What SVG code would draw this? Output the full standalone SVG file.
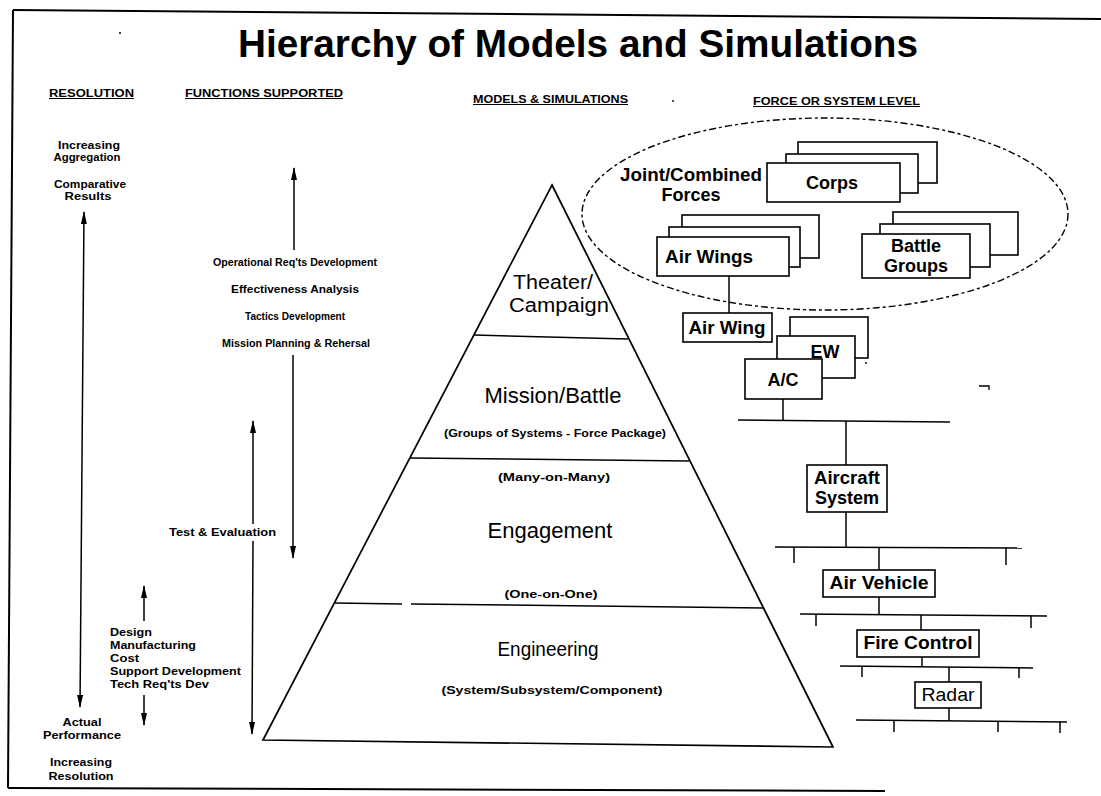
<svg xmlns="http://www.w3.org/2000/svg" width="1101" height="796" viewBox="0 0 1101 796">
<style>
text{font-family:"Liberation Sans",Arial,sans-serif;fill:#000}
.title{font-size:38px;font-weight:bold}
.hdr{font-size:10px;font-weight:bold;text-decoration:underline}
.sm{font-size:10.5px;font-weight:bold}
.pyr{font-size:22px}
.pyrs{font-size:11px;font-weight:bold}
.bl{font-size:18px;font-weight:bold}
.box{fill:#fff;stroke:#000;stroke-width:1.6}
.ln{stroke:#000;stroke-width:1.5;fill:none}
.arr{stroke:#000;stroke-width:1.5;fill:none}
</style>
<defs>
<marker id="ah" viewBox="0 0 13 6" refX="12" refY="3" markerWidth="13" markerHeight="6" markerUnits="userSpaceOnUse" orient="auto-start-reverse">
<path d="M0,0 L13,3 L0,6 z" fill="#000"/>
</marker>
</defs>
<rect width="1101" height="796" fill="#fff"/>

<!-- frame -->
<g id="frame" class="ln">
<path d="M13,10 L1101,19" style="stroke-width:2"/>
<path d="M13,10 L8,788" style="stroke-width:2"/>
<path d="M8,788 L885,791" style="stroke-width:2"/>
</g>

<text class="title" x="578" y="57" text-anchor="middle" textLength="680" lengthAdjust="spacingAndGlyphs">Hierarchy of Models and Simulations</text>

<!-- headers -->
<g id="headers">
<text class="hdr" x="49" y="97" textLength="85" lengthAdjust="spacingAndGlyphs">RESOLUTION</text>
<text class="hdr" x="185" y="97" textLength="158" lengthAdjust="spacingAndGlyphs">FUNCTIONS SUPPORTED</text>
<text class="hdr" x="473" y="103" textLength="155" lengthAdjust="spacingAndGlyphs">MODELS &amp; SIMULATIONS</text>
<text class="hdr" x="753" y="105" textLength="167" lengthAdjust="spacingAndGlyphs">FORCE OR SYSTEM LEVEL</text>
</g>

<!-- resolution column -->
<g id="resolution">
<text class="sm" x="89" y="149" text-anchor="middle" textLength="62" lengthAdjust="spacingAndGlyphs">Increasing</text>
<text class="sm" x="87" y="161" text-anchor="middle" textLength="67" lengthAdjust="spacingAndGlyphs">Aggregation</text>
<text class="sm" x="90" y="188" text-anchor="middle" textLength="72" lengthAdjust="spacingAndGlyphs">Comparative</text>
<text class="sm" x="88" y="200" text-anchor="middle" textLength="47" lengthAdjust="spacingAndGlyphs">Results</text>
<line class="arr" x1="84" y1="212" x2="80" y2="707" marker-start="url(#ah)" marker-end="url(#ah)"/>
<text class="sm" x="82" y="726" text-anchor="middle" textLength="39" lengthAdjust="spacingAndGlyphs">Actual</text>
<text class="sm" x="82" y="739" text-anchor="middle" textLength="78" lengthAdjust="spacingAndGlyphs">Performance</text>
<text class="sm" x="81" y="766" text-anchor="middle" textLength="62" lengthAdjust="spacingAndGlyphs">Increasing</text>
<text class="sm" x="81" y="780" text-anchor="middle" textLength="65" lengthAdjust="spacingAndGlyphs">Resolution</text>
</g>

<!-- functions column -->
<g id="functions">
<line class="arr" x1="294" y1="250" x2="294" y2="168" marker-end="url(#ah)"/>
<text class="sm" x="295" y="266" text-anchor="middle" textLength="164" lengthAdjust="spacingAndGlyphs">Operational Req'ts Development</text>
<text class="sm" x="295" y="293" text-anchor="middle" textLength="128" lengthAdjust="spacingAndGlyphs">Effectiveness Analysis</text>
<text class="sm" x="295" y="320" text-anchor="middle" textLength="100" lengthAdjust="spacingAndGlyphs">Tactics Development</text>
<text class="sm" x="296" y="347" text-anchor="middle" textLength="148" lengthAdjust="spacingAndGlyphs">Mission Planning &amp; Rehersal</text>
<line class="arr" x1="293" y1="355" x2="293" y2="558" marker-end="url(#ah)"/>
<line class="arr" x1="253" y1="524" x2="253" y2="421" marker-end="url(#ah)"/>
<line class="arr" x1="253" y1="541" x2="252" y2="734" marker-end="url(#ah)"/>
<text class="sm" x="169" y="536" textLength="107" lengthAdjust="spacingAndGlyphs">Test &amp; Evaluation</text>
<line class="arr" x1="144" y1="621" x2="144" y2="586" marker-end="url(#ah)"/>
<text class="sm" x="110" y="636" textLength="42" lengthAdjust="spacingAndGlyphs">Design</text>
<text class="sm" x="110" y="649" textLength="86" lengthAdjust="spacingAndGlyphs">Manufacturing</text>
<text class="sm" x="110" y="662" textLength="29" lengthAdjust="spacingAndGlyphs">Cost</text>
<text class="sm" x="110" y="675" textLength="131" lengthAdjust="spacingAndGlyphs">Support Development</text>
<text class="sm" x="110" y="688" textLength="99" lengthAdjust="spacingAndGlyphs">Tech Req'ts Dev</text>
<line class="arr" x1="144" y1="695" x2="144" y2="725" marker-end="url(#ah)"/>
</g>

<!-- pyramid -->
<g id="pyramid">
<path class="ln" d="M552,185 L833,747 L263,740 Z" style="stroke-width:1.7;stroke-linejoin:miter"/>
<line class="ln" x1="474" y1="335" x2="628" y2="339"/>
<line class="ln" x1="410" y1="458" x2="689" y2="461"/>
<line class="ln" x1="335" y1="603" x2="402" y2="604"/>
<line class="ln" x1="411" y1="604" x2="764" y2="608"/>
<text class="pyr" x="553" y="289" text-anchor="middle" style="font-size:20px" textLength="80" lengthAdjust="spacingAndGlyphs">Theater/</text>
<text class="pyr" x="559" y="312" text-anchor="middle" style="font-size:20px" textLength="100" lengthAdjust="spacingAndGlyphs">Campaign</text>
<text class="pyr" x="553" y="403" text-anchor="middle">Mission/Battle</text>
<text class="pyrs" x="555" y="437" text-anchor="middle" textLength="222" lengthAdjust="spacingAndGlyphs">(Groups of Systems - Force Package)</text>
<text class="pyrs" x="554" y="481" text-anchor="middle" textLength="112" lengthAdjust="spacingAndGlyphs">(Many-on-Many)</text>
<text class="pyr" x="550" y="538" text-anchor="middle">Engagement</text>
<text class="pyrs" x="551" y="598" text-anchor="middle" textLength="93" lengthAdjust="spacingAndGlyphs">(One-on-One)</text>
<text class="pyr" x="548" y="656" text-anchor="middle" style="font-size:20px" textLength="101" lengthAdjust="spacingAndGlyphs">Engineering</text>
<text class="pyrs" x="552" y="694" text-anchor="middle" textLength="221" lengthAdjust="spacingAndGlyphs">(System/Subsystem/Component)</text>
</g>

<!-- joint/combined forces -->
<g id="joint-forces">
<ellipse cx="825" cy="214" rx="243" ry="96" fill="none" stroke="#000" stroke-width="1.4" stroke-dasharray="7 3 3 3"/>
<text class="bl" x="691" y="181" text-anchor="middle" textLength="142" lengthAdjust="spacingAndGlyphs">Joint/Combined</text>
<text class="bl" x="691" y="201" text-anchor="middle">Forces</text>
</g>

<!-- connectors -->
<g id="connectors" class="ln">
<line x1="729" y1="276" x2="729" y2="313"/>
<line x1="783" y1="399" x2="783" y2="421"/>
<line x1="738" y1="420" x2="950" y2="422"/>
<line x1="846" y1="421" x2="846" y2="465"/>
<line x1="846" y1="512" x2="846" y2="547"/>
<line x1="775" y1="547" x2="1022" y2="548"/>
<line x1="794" y1="547" x2="794" y2="563"/>
<line x1="1006" y1="548" x2="1006" y2="565"/>
<line x1="879" y1="548" x2="879" y2="570"/>
<line x1="879" y1="597" x2="879" y2="614"/>
<line x1="800" y1="614" x2="1047" y2="616"/>
<line x1="816" y1="614" x2="816" y2="626"/>
<line x1="1031" y1="616" x2="1031" y2="628"/>
<line x1="921" y1="615" x2="921" y2="630"/>
<line x1="922" y1="657" x2="922" y2="667"/>
<line x1="840" y1="666" x2="1033" y2="668"/>
<line x1="862" y1="667" x2="862" y2="677"/>
<line x1="1019" y1="668" x2="1019" y2="678"/>
<line x1="949" y1="667" x2="949" y2="682"/>
<line x1="949" y1="708" x2="949" y2="721"/>
<line x1="856" y1="720" x2="1067" y2="722"/>
<line x1="894" y1="721" x2="894" y2="732"/>
<line x1="998" y1="721" x2="998" y2="732"/>
<line x1="1060" y1="722" x2="1060" y2="733"/>
</g>

<!-- nodes -->
<g id="corps">
<rect class="box" x="798" y="142" width="139" height="41"/>
<rect class="box" x="786" y="154" width="132" height="39"/>
<rect class="box" x="767" y="163" width="133" height="39"/>
<text class="bl" x="832" y="189" text-anchor="middle">Corps</text>
</g>
<g id="air-wings">
<rect class="box" x="682" y="215" width="137" height="43"/>
<rect class="box" x="669" y="227" width="131" height="40"/>
<rect class="box" x="657" y="237" width="132" height="39"/>
<text class="bl" x="709" y="263" text-anchor="middle" textLength="88" lengthAdjust="spacingAndGlyphs">Air Wings</text>
</g>
<g id="battle-groups">
<rect class="box" x="893" y="212" width="125" height="43"/>
<rect class="box" x="880" y="224" width="110" height="43"/>
<rect class="box" x="862" y="234" width="108" height="44"/>
<text class="bl" x="916" y="252" text-anchor="middle">Battle</text>
<text class="bl" x="916" y="272" text-anchor="middle">Groups</text>
</g>
<g id="air-wing">
<rect class="box" x="683" y="313" width="89" height="29"/>
<text class="bl" x="727" y="334" text-anchor="middle" textLength="77" lengthAdjust="spacingAndGlyphs">Air Wing</text>
</g>
<g id="ac-ew">
<rect class="box" x="790" y="317" width="78" height="41"/>
<rect class="box" x="777" y="336" width="78" height="42"/>
<text class="bl" x="825" y="358" text-anchor="middle">EW</text>
<rect class="box" x="745" y="359" width="77" height="40"/>
<text class="bl" x="783" y="386" text-anchor="middle">A/C</text>
</g>
<g id="aircraft-system">
<rect class="box" x="807" y="465" width="80" height="47"/>
<text class="bl" x="847" y="484" text-anchor="middle" textLength="66" lengthAdjust="spacingAndGlyphs">Aircraft</text>
<text class="bl" x="847" y="504" text-anchor="middle">System</text>
</g>
<g id="air-vehicle">
<rect class="box" x="823" y="570" width="112" height="27"/>
<text class="bl" x="879" y="589" text-anchor="middle" textLength="99" lengthAdjust="spacingAndGlyphs">Air Vehicle</text>
</g>
<g id="fire-control">
<rect class="box" x="857" y="630" width="122" height="27"/>
<text class="bl" x="918" y="649" text-anchor="middle" textLength="109" lengthAdjust="spacingAndGlyphs">Fire Control</text>
</g>
<g id="radar">
<rect class="box" x="915" y="682" width="66" height="26"/>
<text class="bl" x="948" y="701" text-anchor="middle" style="font-weight:normal" textLength="53" lengthAdjust="spacingAndGlyphs">Radar</text>
</g>

<!-- scan specks -->
<g id="specks" fill="#000">
<circle cx="120" cy="33" r="1"/>
<circle cx="673" cy="101" r="0.9"/>
<circle cx="866" cy="363" r="0.9"/>
<path d="M979,386 L989,386 L989,390" fill="none" stroke="#000" stroke-width="1.3"/>
</g>
</svg>
